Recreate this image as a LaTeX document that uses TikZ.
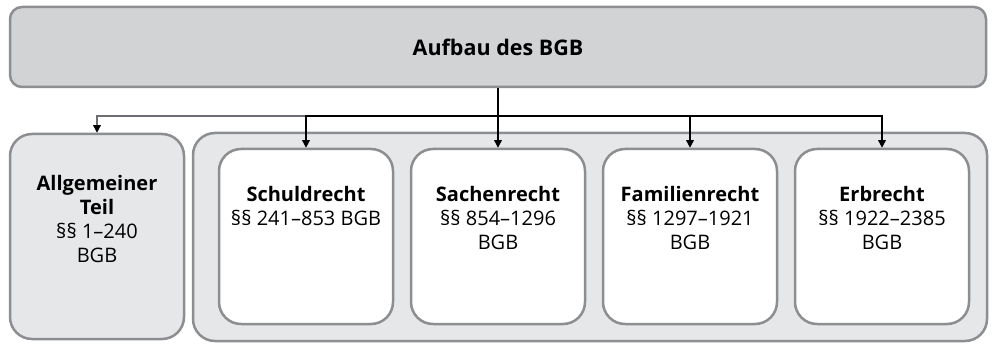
\documentclass[tikz,border=0pt]{standalone}
\usepackage{fontspec}
\setmainfont{Open Sans}
\usetikzlibrary{positioning, arrows.meta}
\definecolor{bgbgrey}{HTML}{D1D3D4}
\definecolor{bgblight}{HTML}{E6E7E8}
\definecolor{bgbline}{HTML}{8C8E91}
\definecolor{bgbwire}{HTML}{6D6E71}

\begin{document}
\begin{tikzpicture}[x=1pt, y=-1pt]
	\tikzstyle{head} = [rectangle, rounded corners=12pt, draw=bgbline, line width=2.5pt, 
	fill=bgbgrey, minimum width=976pt, minimum height=80pt, font=\fontsize{21.5}{26}\selectfont\bfseries]
	\tikzstyle{part} = [rectangle, rounded corners=22pt, draw=bgbline, line width=2.5pt, 
	fill=bgblight]
	\tikzstyle{book} = [rectangle, rounded corners=22pt, draw=bgbline, line width=2.5pt, 
	fill=white, minimum width=174pt, minimum height=175pt]
	\tikzstyle{booktext} = [inner sep=0pt, align=center, font=\fontsize{20}{24}\selectfont]
	\tikzstyle{arrow} = [line width=1.3pt, -{Triangle[length=7.5pt, width=7.5pt, color=black]}]
	\useasboundingbox (0,0) rectangle (992,344);
	\node (head) [head] at (498,47) {Aufbau des BGB};
	\node (allg) [part, minimum width=174pt, minimum height=205pt] at (97,236.5) {};
	\node (rest) [part, minimum width=794pt, minimum height=208pt] at (590,237) {};
	\node (schuld) [book] at (306,236.5) {};
	\node (sachen) [book] at (498,236.5) {};
	\node (familie) [book] at (690,236.5) {};
	\node (erb) [book] at (882,236.5) {};
	\node (allgText) [booktext, below=42pt of allg.north] {\textbf{Allgemeiner}\\\textbf{Teil}\\§§ 1–240\\BGB};
	\node (schuldText) [booktext, below=38pt of schuld.north] {\textbf{Schuldrecht}\\§§ 241–853 BGB};
	\node (sachenText) [booktext, below=38pt of sachen.north] {\textbf{Sachenrecht}\\§§ 854–1296\\BGB};
	\node (familieText) [booktext, below=38pt of familie.north] {\textbf{Familienrecht}\\§§ 1297–1921\\BGB};
	\node (erbText) [booktext, below=38pt of erb.north] {\textbf{Erbrecht}\\§§ 1922–2385\\BGB};
	\coordinate (hub) at (498,116);
	\draw [line width=1.6pt] (head) -- (hub);
	\draw [arrow, draw=bgbwire, line width=1.2pt] (hub) -| (allg);
	\draw [arrow] (hub) -| (schuld);
	\draw [arrow] (hub) -- (sachen);
	\draw [arrow] (hub) -| (familie);
	\draw [arrow] (hub) -| (erb);
\end{tikzpicture}
\end{document}
